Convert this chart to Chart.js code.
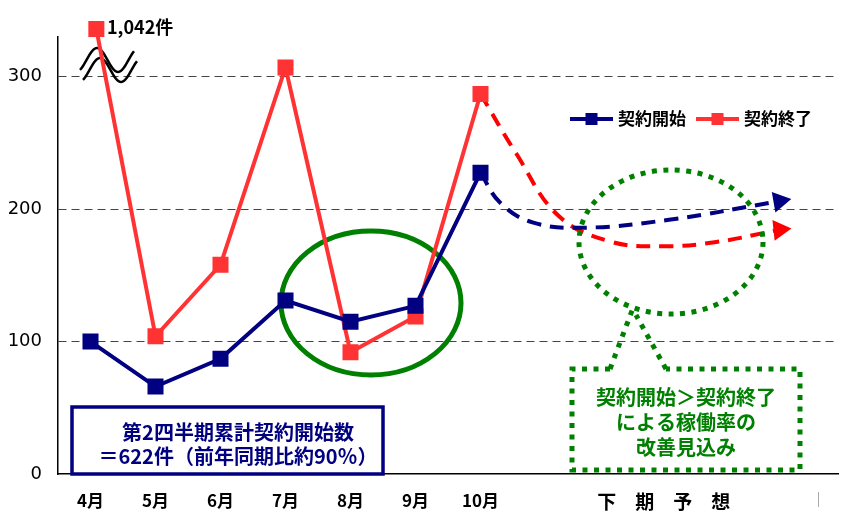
<!DOCTYPE html>
<html>
<head>
<meta charset="utf-8">
<script src="https://cdn.jsdelivr.net/npm/chart.js@4"></script>
<style>
  html, body { margin: 0; padding: 0; background: #fff; overflow: hidden; }
  #wrap { width: 841px; height: 518px; }
  canvas { display: block; }
</style>
</head>
<body>
<div id="wrap"><canvas id="myChart" width="841" height="518"></canvas></div>
<script>
const months = ['4月', '5月', '6月', '7月', '8月', '9月', '10月'];
const forecastLabel = '下　期　予　想';
const forecastLabelPos = 8.82;

// 契約開始
const startX = [0, 1, 2, 3, 4, 5, 6];
const startValues = [100, 66, 87, 131, 115, 127, 227.5];
// 契約終了 (4月 is off the scale, real value 1,042)
const endX = [0.09, 1, 2, 3, 4, 5, 6];
const endValues = [336, 104, 158, 307, 92, 119, 287];
const endFirstLabel = '1,042件';

// 下期予想 (dashed arrows)
const startForecastX = [6, 6.3, 6.8, 7.6, 8.9, 10.6];
const startForecastY = [227.5, 205, 190, 186, 192, 206];
const endForecastX = [6, 6.55, 7.2, 8.0, 8.8, 9.6, 10.6];
const endForecastY = [287, 242, 195, 175.5, 172, 175, 184.4];

const yTicks = [0, 100, 200, 300];

const summaryText = ['第2四半期累計契約開始数', '＝622件（前年同期比約90％）'];
const calloutText = ['契約開始＞契約終了', 'による稼働率の', '改善見込み'];

const JP = '"Noto Sans CJK JP", "Noto Sans", sans-serif';
const NUM = '"DejaVu Sans", "Noto Sans CJK JP", sans-serif';
const NAVY = '#000080';
const RED = '#FF3333';
const GREEN = '#008000';

const toPoints = (xs, ys) => xs.map((x, i) => ({ x: x, y: ys[i] }));

// legend, circles, boxes and notes
const decorations = {
  id: 'decorations',
  beforeDatasetsDraw(chart) {
    const ctx = chart.ctx;
    ctx.save();
    // green circle around 7月-9月
    ctx.strokeStyle = GREEN;
    ctx.lineWidth = 5;
    ctx.beginPath();
    ctx.ellipse(371, 303, 90, 72, 0, 0, Math.PI * 2);
    ctx.stroke();

    // axis break mark
    ctx.strokeStyle = '#000';
    ctx.lineWidth = 2.5;
    [0, 1].forEach(k => {
      const dx = k * 3, dy = k * 10;
      ctx.beginPath();
      for (let x = 80; x <= 134; x += 1) {
        const y = 60 - 12 * Math.cos(2 * Math.PI * (x - 97) / 42);
        if (x === 80) ctx.moveTo(x + dx, y + dy); else ctx.lineTo(x + dx, y + dy);
      }
      ctx.stroke();
    });
    ctx.restore();
  },
  afterDatasetsDraw(chart) {
    const ctx = chart.ctx;
    ctx.save();
    // dotted circle + callout
    ctx.strokeStyle = GREEN;
    ctx.lineWidth = 5;
    ctx.setLineDash([5, 6.5]);
    ctx.beginPath();
    ctx.ellipse(671, 242, 92, 72, 0, 0, Math.PI * 2);
    ctx.stroke();

    ctx.beginPath();
    ctx.moveTo(610, 369); ctx.lineTo(572, 369); ctx.lineTo(572, 470);
    ctx.lineTo(800, 470); ctx.lineTo(800, 369); ctx.lineTo(666, 369);
    ctx.stroke();
    ctx.beginPath(); ctx.moveTo(610, 369); ctx.lineTo(633, 308); ctx.stroke();
    ctx.beginPath(); ctx.moveTo(666, 369); ctx.lineTo(636, 315); ctx.stroke();
    ctx.setLineDash([]);

    ctx.fillStyle = GREEN;
    ctx.font = 'bold 20px ' + JP;
    ctx.textAlign = 'center';
    ctx.textBaseline = 'middle';
    calloutText.forEach((t, i) => ctx.fillText(t, 686, 397 + i * 25));

    // 1,042件
    ctx.fillStyle = '#000';
    ctx.font = 'bold 18px ' + JP;
    ctx.textAlign = 'left';
    ctx.fillText(endFirstLabel, 107, 27);

    // legend
    const items = [['契約開始', NAVY, 570], ['契約終了', RED, 696]];
    items.forEach(([txt, col, x0]) => {
      ctx.strokeStyle = col;
      ctx.fillStyle = col;
      ctx.lineWidth = 4;
      ctx.beginPath(); ctx.moveTo(x0, 119); ctx.lineTo(x0 + 43, 119); ctx.stroke();
      ctx.fillRect(x0 + 15.5, 113, 12, 12);
      ctx.fillStyle = '#000';
      ctx.font = 'bold 17px ' + JP;
      ctx.fillText(txt, x0 + 48, 119);
    });
    ctx.restore();
  },
  afterDraw(chart) {
    const ctx = chart.ctx;
    ctx.save();
    ctx.fillStyle = '#fff';
    ctx.fillRect(72, 407, 311, 67);
    ctx.strokeStyle = NAVY;
    ctx.lineWidth = 3.5;
    ctx.strokeRect(72, 407, 311, 67);
    ctx.fillStyle = NAVY;
    ctx.font = 'bold 20px ' + JP;
    ctx.textAlign = 'center';
    ctx.textBaseline = 'middle';
    summaryText.forEach((t, i) => ctx.fillText(t, 238, 432 + i * 24));

    // small tick at right end of the axis
    ctx.strokeStyle = '#aaa';
    ctx.lineWidth = 1;
    ctx.beginPath(); ctx.moveTo(818.5, 492); ctx.lineTo(818.5, 507); ctx.stroke();
    ctx.restore();
  }
};

const arrowRadius = n => c => (c.dataIndex === n - 1 ? 12 : 0);

new Chart(document.getElementById('myChart'), {
  type: 'line',
  data: {
    datasets: [
      {
        label: '契約開始',
        data: toPoints(startX, startValues),
        borderColor: NAVY,
        backgroundColor: NAVY,
        borderWidth: 4,
        pointStyle: 'rect',
        pointRadius: 8.5,
        pointHoverRadius: 8.5,
        order: 1
      },
      {
        label: '契約終了',
        data: toPoints(endX, endValues),
        borderColor: RED,
        backgroundColor: RED,
        borderWidth: 4,
        pointStyle: 'rect',
        pointRadius: 8.5,
        pointHoverRadius: 8.5,
        clip: false,
        order: 2
      },
      {
        label: '契約開始予想',
        data: toPoints(startForecastX, startForecastY),
        borderColor: NAVY,
        backgroundColor: NAVY,
        borderWidth: 4,
        borderDash: [14, 9],
        tension: 0.4,
        pointStyle: 'triangle',
        pointRotation: 80,
        pointBorderWidth: 0,
        pointRadius: arrowRadius(startForecastX.length),
        order: 3
      },
      {
        label: '契約終了予想',
        data: toPoints(endForecastX, endForecastY),
        borderColor: '#FF0000',
        backgroundColor: '#FF0000',
        borderWidth: 4,
        borderDash: [14, 9],
        tension: 0.4,
        pointStyle: 'triangle',
        pointRotation: 84,
        pointBorderWidth: 0,
        pointRadius: arrowRadius(endForecastX.length),
        order: 4
      }
    ]
  },
  options: {
    responsive: false,
    animation: false,
    devicePixelRatio: 1,
    layout: { autoPadding: false, padding: { top: 37, right: 3, left: 0, bottom: 0 } },
    plugins: { legend: { display: false }, tooltip: { enabled: false } },
    scales: {
      x: {
        type: 'linear',
        min: -0.5,
        max: 11.5,
        grid: { display: false, drawTicks: false },
        border: { display: true, color: '#000', width: 1.5 },
        afterBuildTicks: s => {
          s.ticks = startX.map(v => ({ value: v })).concat([{ value: forecastLabelPos }]);
        },
        afterFit: s => { s.height = 44; s.paddingLeft = 0; s.paddingRight = 0; },
        ticks: {
          autoSkip: false,
          maxRotation: 0,
          padding: 16,
          color: '#000',
          callback: v => (v === forecastLabelPos ? forecastLabel : months[v]),
          font: c => (c.tick && c.tick.value === forecastLabelPos
            ? { family: JP, size: 19, weight: 'bold' }
            : { family: JP, size: 17, weight: 'bold' })
        }
      },
      y: {
        min: 0,
        max: 330,
        afterBuildTicks: s => { s.ticks = yTicks.map(v => ({ value: v })); },
        afterFit: s => { s.width = 58; s.paddingTop = 0; s.paddingBottom = 0; },
        grid: {
          drawTicks: false,
          lineWidth: 1,
          color: c => (c.tick && c.tick.value === 0 ? 'rgba(0,0,0,0)' : '#444')
        },
        border: { display: true, color: '#000', width: 1.5, dash: [8, 5] },
        ticks: { padding: 16, color: '#000', font: { family: NUM, size: 18 } }
      }
    }
  },
  plugins: [decorations]
});
</script>
</body>
</html>
